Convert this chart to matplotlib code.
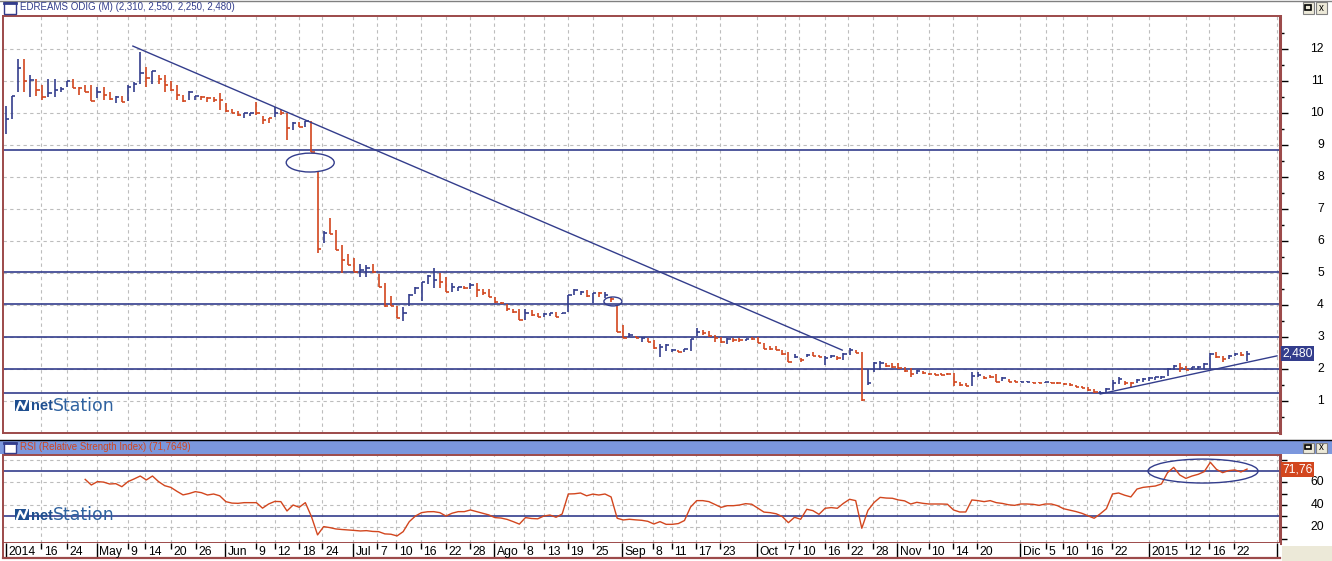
import numpy as np
import matplotlib
matplotlib.use('Agg')
import matplotlib.pyplot as plt
from matplotlib.patches import Ellipse, Rectangle
from matplotlib import transforms

plt.rcParams['font.family'] = ['Liberation Sans', 'DejaVu Sans']

# daily bars (high / low / close)
highs = [10.22, 10.53, 11.69, 11.69, 11.19, 11.06, 10.88, 11.06, 11.06, 10.82,
         11.00, 11.06, 10.82, 10.88, 10.88, 10.80, 10.80, 10.65, 10.53, 10.53,
         10.88, 10.98, 11.92, 11.43, 11.31, 11.19, 11.19, 11.00, 10.88, 10.56,
         10.69, 10.53, 10.53, 10.50, 10.50, 10.61, 10.30, 10.12, 10.07, 10.01,
         10.01, 10.35, 9.89, 9.83, 10.18, 10.09, 9.99, 9.73, 9.73, 9.76,
         9.76, 8.15, 6.31, 6.71, 6.34, 5.88, 5.58, 5.46, 5.27, 5.25,
         5.27, 4.96, 4.68, 4.28, 3.98, 3.95, 4.33, 4.57, 4.73, 4.94,
         5.15, 5.01, 4.89, 4.68, 4.57, 4.59, 4.68, 4.68, 4.49, 4.49,
         4.26, 4.10, 4.03, 3.86, 3.86, 3.86, 3.84, 3.74, 3.76, 3.76,
         3.79, 3.74, 4.31, 4.49, 4.45, 4.47, 4.36, 4.42, 4.42, 4.26,
         4.00, 3.38, 3.11, 3.03, 2.99, 2.96, 2.91, 2.77, 2.77, 2.62,
         2.60, 2.62, 2.93, 3.27, 3.22, 3.20, 3.06, 2.99, 2.96, 2.96,
         2.96, 2.93, 2.99, 2.99, 2.82, 2.72, 2.72, 2.60, 2.54, 2.47,
         2.33, 2.47, 2.54, 2.44, 2.41, 2.44, 2.41, 2.49, 2.65, 2.59,
         2.54, 2.00, 2.23, 2.26, 2.20, 2.18, 2.20, 2.07, 2.02, 1.97,
         1.94, 1.89, 1.87, 1.87, 1.87, 1.87, 1.60, 1.55, 1.92, 1.92,
         1.78, 1.81, 1.84, 1.74, 1.68, 1.65, 1.63, 1.63, 1.60, 1.60,
         1.60, 1.60, 1.60, 1.57, 1.55, 1.50, 1.47, 1.45, 1.36, 1.32,
         1.40, 1.66, 1.74, 1.63, 1.60, 1.68, 1.71, 1.74, 1.76, 1.78,
         2.02, 2.12, 2.18, 2.09, 2.07, 2.09, 2.18, 2.49, 2.54, 2.41,
         2.44, 2.49, 2.54, 2.55]
lows = [9.34, 9.80, 10.67, 10.65, 10.50, 10.54, 10.40, 10.50, 10.50, 10.65,
        10.82, 10.77, 10.56, 10.65, 10.38, 10.46, 10.40, 10.40, 10.32, 10.35,
        10.38, 10.65, 10.90, 10.80, 10.92, 10.92, 10.65, 10.69, 10.40, 10.35,
        10.40, 10.40, 10.40, 10.35, 10.35, 10.08, 10.04, 10.00, 9.91, 9.83,
        9.89, 9.94, 9.66, 9.68, 9.87, 9.94, 9.14, 9.47, 9.57, 9.57,
        8.79, 5.64, 5.95, 6.21, 5.72, 5.01, 5.24, 5.02, 4.87, 4.89,
        5.01, 4.57, 3.95, 3.97, 3.58, 3.51, 3.98, 4.33, 4.11, 4.65,
        4.52, 4.54, 4.40, 4.42, 4.45, 4.49, 4.49, 4.26, 4.31, 4.24,
        4.07, 4.03, 3.82, 3.76, 3.53, 3.53, 3.66, 3.64, 3.64, 3.66,
        3.64, 3.72, 3.79, 4.31, 4.31, 4.26, 4.05, 4.26, 4.21, 4.10,
        3.17, 2.96, 2.99, 2.96, 2.85, 2.85, 2.63, 2.39, 2.57, 2.54,
        2.52, 2.54, 2.57, 3.03, 3.06, 2.99, 2.85, 2.82, 2.78, 2.85,
        2.85, 2.89, 2.91, 2.80, 2.63, 2.60, 2.60, 2.44, 2.23, 2.33,
        2.23, 2.36, 2.41, 2.36, 2.13, 2.33, 2.28, 2.28, 2.44, 2.49,
        1.01, 1.50, 1.92, 1.97, 2.07, 2.02, 1.99, 1.92, 1.74, 1.84,
        1.84, 1.81, 1.81, 1.81, 1.81, 1.47, 1.47, 1.47, 1.47, 1.74,
        1.68, 1.71, 1.60, 1.63, 1.60, 1.60, 1.58, 1.58, 1.55, 1.55,
        1.55, 1.55, 1.53, 1.50, 1.47, 1.43, 1.40, 1.32, 1.26, 1.22,
        1.26, 1.34, 1.53, 1.50, 1.45, 1.55, 1.60, 1.63, 1.66, 1.68,
        1.78, 1.97, 1.92, 1.97, 1.97, 1.99, 1.99, 1.99, 2.33, 2.23,
        2.30, 2.41, 2.41, 2.25]
closes = [9.80, 10.53, 11.40, 11.00, 11.02, 10.72, 10.50, 10.61, 10.72, 10.74,
          11.00, 10.79, 10.77, 10.65, 10.38, 10.65, 10.56, 10.43, 10.50, 10.35,
          10.82, 10.90, 11.24, 11.10, 11.31, 11.05, 10.88, 10.72, 10.56, 10.38,
          10.67, 10.53, 10.50, 10.46, 10.40, 10.40, 10.07, 10.01, 9.94, 9.99,
          10.01, 10.01, 9.78, 9.83, 10.01, 9.99, 9.52, 9.70, 9.57, 9.76,
          8.79, 5.75, 6.26, 6.21, 5.72, 5.41, 5.24, 5.04, 5.09, 5.17,
          5.04, 4.57, 3.98, 3.97, 3.60, 3.76, 4.30, 4.54, 4.73, 4.91,
          4.78, 4.73, 4.40, 4.57, 4.55, 4.52, 4.63, 4.47, 4.36, 4.26,
          4.10, 4.05, 3.89, 3.79, 3.53, 3.74, 3.69, 3.64, 3.71, 3.74,
          3.64, 3.74, 4.31, 4.47, 4.42, 4.28, 4.36, 4.36, 4.31, 4.19,
          3.17, 2.96, 3.06, 2.96, 2.96, 2.85, 2.65, 2.70, 2.75, 2.60,
          2.52, 2.62, 2.93, 3.17, 3.11, 3.03, 2.96, 2.85, 2.93, 2.91,
          2.91, 2.93, 2.93, 2.82, 2.63, 2.62, 2.60, 2.47, 2.23, 2.39,
          2.28, 2.44, 2.41, 2.36, 2.33, 2.41, 2.33, 2.47, 2.60, 2.51,
          1.03, 1.55, 2.18, 2.20, 2.09, 2.05, 2.02, 1.95, 1.84, 1.95,
          1.87, 1.84, 1.81, 1.81, 1.83, 1.60, 1.50, 1.48, 1.78, 1.81,
          1.71, 1.74, 1.60, 1.71, 1.60, 1.60, 1.60, 1.60, 1.57, 1.57,
          1.58, 1.57, 1.55, 1.53, 1.50, 1.45, 1.42, 1.34, 1.29, 1.26,
          1.36, 1.57, 1.68, 1.55, 1.57, 1.66, 1.68, 1.71, 1.74, 1.76,
          2.00, 2.09, 2.02, 1.97, 2.05, 2.07, 2.16, 2.46, 2.37, 2.30,
          2.41, 2.47, 2.44, 2.48]
# u = blue (up) bar, d = red (down) bar
direction = ("uuudu dduuu udddd uddud uuudu ddddd uuddd ddddu udddu ddudu "
             "ddudd ddduu ddddd uuuuu udduu duddd ddddd udduu duuuu dudud "
             "ddudu dduuu duuud dddud duddd ddddu duddu uduud duuud ddddu "
             "ddddd ddduu dddud duudd udddd ddddu uuudd uuuuu uuddu uuudd uudu")
last_open = 2.31

# RSI, starts at bar 13
rsi_start = 13
rsi = [62.6, 57.6, 60.6, 60.2, 58.5, 58.8, 56.1, 60.6, 63.0, 65.6,
       62.1, 65.6, 60.6, 57.0, 55.5, 52.0, 48.8, 50.0, 51.7, 50.8,
       48.7, 49.6, 48.0, 42.8, 41.5, 41.3, 41.9, 41.9, 41.9, 37.0,
       40.7, 43.0, 42.8, 34.5, 39.8, 37.8, 41.9, 29.5, 13.2, 20.6,
       19.7, 18.5, 18.0, 17.6, 17.2, 16.7, 17.0, 16.3, 16.1, 14.1,
       13.8, 12.3, 16.1, 25.0, 30.0, 33.0, 33.8, 33.9, 33.0, 30.0,
       32.5, 33.9, 33.9, 35.4, 33.9, 32.5, 31.0, 28.6, 28.2, 27.0,
       25.0, 22.8, 28.6, 27.8, 27.5, 30.0, 30.9, 28.9, 31.8, 49.6,
       49.8, 50.5, 48.0, 49.5, 48.7, 49.6, 47.0, 28.0, 26.5, 27.1,
       26.6, 26.2, 25.3, 22.9, 25.0, 22.6, 22.6, 23.3, 26.0, 38.0,
       43.7, 43.7, 42.8, 40.2, 37.7, 39.2, 39.2, 39.8, 41.0, 40.5,
       37.0, 33.5, 33.0, 32.0, 29.5, 24.1, 28.9, 27.1, 36.0, 34.8,
       31.5, 36.9, 37.5, 36.9, 41.3, 44.9, 43.7, 19.1, 35.0, 42.0,
       46.6, 46.0, 45.8, 44.3, 43.5, 40.7, 42.2, 41.3, 40.7, 40.7,
       40.7, 40.5, 35.4, 33.6, 33.6, 44.3, 43.7, 42.8, 43.7, 41.9,
       41.2, 40.0, 39.5, 40.7, 40.7, 40.4, 39.5, 40.7, 40.7, 39.2,
       36.5, 35.2, 34.0, 32.4, 30.2, 28.0, 32.0, 36.5, 49.6, 50.5,
       48.5, 47.0, 54.0, 55.5, 56.1, 56.7, 58.5, 68.6, 73.3, 66.5,
       63.5, 65.6, 67.1, 69.5, 77.8, 71.5, 68.6, 70.4, 71.0, 69.2,
       71.7649]
rsi_levels = [70, 30]

# drawn studies
levels = [8.84, 5.03, 4.03, 3.0, 2.0, 1.25]
trend_down_x, trend_down_y = [20.8, 136.8], [12.09, 2.59]
trend_up_x, trend_up_y = [179.0, 207.9], [1.22, 2.41]
price_marks = [(49.8, 8.45, 7.85, 0.59), (99.3, 4.11, 2.94, 0.28)]
rsi_mark = (195.8, 70.0, 18.0, 21.3)

# date axis
tick_pos = [0, 5.8, 10, 14.9, 20, 22.8, 27, 31.1, 35.9, 40.9, 44, 48, 51.8,
            56.8, 60.8, 63.9, 67.9, 72, 75.9, 79.9, 84.8, 88.1, 91.9, 96,
            100.8, 105.9, 108.9, 112.9, 116.8, 122.9, 127.4, 129.8, 134, 137.8,
            141.9, 145.8, 151, 154.9, 158.9, 165.9, 170.1, 172.9, 176.9, 180.9,
            186.9, 193, 196.8, 200.9, 207.9]
tick_labels = ['2014', '16', '24', 'May', '9', '14', '20', '26', 'Jun', '9', '12',
               '18', '24', 'Jul', '7', '10', '16', '22', '28', 'Ago', '8', '13',
               '19', '25', 'Sep', '8', '11', '17', '23', 'Oct', '7', '10', '16',
               '22', '28', 'Nov', '10', '14', '20', 'Dic', '5', '10', '16', '22',
               '2015', '12', '16', '22', '']

W, H = 1332, 561
BLUE = '#333d8c'
RED = '#d2461e'
FRAME = '#9c4a4a'
GRID = '#bdbdbd'
XLIM = (-0.44, 208.39)


def box(x0, y0, x1, y1):
    # pixel box measured from the top-left -> figure fraction rect
    return [x0 / W, 1 - y1 / H, (x1 - x0) / W, (y1 - y0) / H]


def fig_rect(x0, y0, x1, y1, **kw):
    fig.add_artist(Rectangle((x0 / W, 1 - y1 / H), (x1 - x0) / W, (y1 - y0) / H,
                             transform=fig.transFigure, **kw))


def fig_line(x0, y0, x1, y1, **kw):
    fig.add_artist(plt.Line2D([x0 / W, x1 / W], [1 - y0 / H, 1 - y1 / H],
                              transform=fig.transFigure, **kw))


def window_bar(y0, y1, bg, title, title_color):
    fig_rect(0, y0, W, y1, facecolor=bg, edgecolor='none')
    fig_rect(3.5, y0 + 2.5, 15.5, y1 - 1.5, facecolor='white', edgecolor=BLUE, lw=1.0)
    fig_line(3.5, y0 + 3, 15.5, y0 + 3, color=BLUE, lw=2)
    fig.text(20 / W, 1 - (y0 + y1) / 2 / H, title, color=title_color,
             fontsize=7.0, va='center', ha='left')
    # min / close buttons
    fig_rect(1302.5, y0 + 2.5, 1313.5, y1 - 1.5, facecolor='#ece9d8', edgecolor='#808080', lw=0.8)
    fig_rect(1305, y0 + 5, 1311, y1 - 5, facecolor='none', edgecolor='black', lw=1.2)
    fig_rect(1315.5, y0 + 2.5, 1326.5, y1 - 1.5, facecolor='#ece9d8', edgecolor='#808080', lw=0.8)
    fig.text(1321 / W, 1 - ((y0 + y1) / 2 + 0.5) / H, 'x', fontsize=7, ha='center',
             va='center', color='black')


def logo(y):
    fig_rect(15, y, 29, y + 11, facecolor='#1f4f8f', edgecolor='none')
    fig.add_artist(plt.Line2D([17 / W, 20 / W, 24 / W, 27 / W],
                              [1 - (y + 10) / H, 1 - (y + 2) / H, 1 - (y + 9) / H, 1 - (y + 1) / H],
                              transform=fig.transFigure, color='white', lw=1.6))
    fig.text(31 / W, 1 - (y + 6.5) / H, 'net', color='#1f4f8f', fontsize=10.5,
             fontweight='bold', va='center', ha='left')
    fig.text(53 / W, 1 - (y + 6) / H, 'Station', color='#2f62a0', fontsize=12.5,
             family='DejaVu Sans', va='center', ha='left')


def style_frame(a):
    for s in a.spines.values():
        s.set_color(FRAME)
        s.set_linewidth(1.4)
    a.spines['right'].set_linewidth(2.2)
    a.set_xlim(*XLIM)
    a.set_xticks(tick_pos[1:])
    a.tick_params(axis='x', length=0, labelbottom=False)
    a.grid(True, which='major', color=GRID, linestyle=(0, (3, 3)), lw=0.8)
    a.yaxis.tick_right()
    a.tick_params(axis='y', which='both', direction='out', width=1, colors='black',
                  labelright=False, labelleft=False)


fig = plt.figure(figsize=(W / 100, H / 100), dpi=100)
fig.patch.set_facecolor('white')

x = np.arange(len(closes))
up = np.array([c == 'u' for c in direction.replace(' ', '')])
bar_colors = np.where(up, BLUE, RED)

# ---- price panel
ax = fig.add_axes(box(3, 16, 1280, 433))
ax.set_ylim(0.0, 13.03)
ax.set_yticks(range(1, 13))
ax.set_yticks(np.arange(0.5, 13, 1), minor=True)
style_frame(ax)
ax.tick_params(axis='y', which='major', length=6)
ax.tick_params(axis='y', which='minor', length=3)

for lv in levels:
    ax.axhline(lv, color=BLUE, lw=1.2, zorder=2)
ax.vlines(x, lows, highs, colors=bar_colors, lw=1.2, zorder=3)
ax.hlines(closes, x, x + 0.55, colors=bar_colors, lw=1.2, zorder=3)
ax.plot(trend_down_x, trend_down_y, color=BLUE, lw=1.0, zorder=4)
ax.plot(trend_up_x, trend_up_y, color=BLUE, lw=1.0, zorder=4)
for cx, cy, w, h in price_marks:
    ax.add_patch(Ellipse((cx, cy), w, h, fill=False, ec=BLUE, lw=1.0, zorder=4))

ylab = transforms.blended_transform_factory(ax.transAxes, ax.transData)
for v in range(1, 13):
    ax.text(1.0344, v, str(v), transform=ylab, ha='right', va='center',
            fontsize=8.7, clip_on=False)
ax.text(1.0017, closes[-1], f'{closes[-1]:.3f}'.replace('.', ','), transform=ylab,
        ha='left', va='center', color='white', fontsize=8.7, clip_on=False,
        bbox=dict(boxstyle='square,pad=0.12', fc=BLUE, ec='none'))

# ---- RSI panel
ax2 = fig.add_axes(box(3, 455, 1280, 543))
ax2.set_ylim(6.0, 84.3)
ax2.set_yticks([20, 40, 60, 80])
ax2.set_yticks([10, 30, 50, 70], minor=True)
style_frame(ax2)
ax2.tick_params(axis='y', which='both', length=5)
for lv in rsi_levels:
    ax2.axhline(lv, color=BLUE, lw=1.2, zorder=2)
ax2.plot(np.arange(rsi_start, rsi_start + len(rsi)), rsi, color=RED, lw=1.0, zorder=3)
ax2.add_patch(Ellipse(rsi_mark[:2], rsi_mark[2], rsi_mark[3], fill=False, ec=BLUE,
                      lw=1.0, zorder=4))
ylab2 = transforms.blended_transform_factory(ax2.transAxes, ax2.transData)
for v in [20, 40, 60]:
    ax2.text(1.0344, v, str(v), transform=ylab2, ha='right', va='center',
             fontsize=8.7, clip_on=False)
ax2.text(1.0017, rsi[-1], f'{rsi[-1]:.2f}'.replace('.', ','), transform=ylab2,
         ha='left', va='center', color='white', fontsize=8.7, clip_on=False,
         bbox=dict(boxstyle='square,pad=0.12', fc=RED, ec='none'))

# ---- date axis
ax3 = fig.add_axes(box(3, 543, 1280, 558))
ax3.set_xlim(*XLIM)
ax3.set_ylim(0, 1)
ax3.set_xticks([])
ax3.set_yticks([])
ax3.spines['top'].set_visible(False)
ax3.spines['right'].set_visible(False)
ax3.spines['bottom'].set_color(FRAME)
ax3.spines['bottom'].set_linewidth(1.6)
ax3.spines['left'].set_color(FRAME)
ax3.spines['left'].set_linewidth(1.4)
shift = transforms.offset_copy(ax3.transData, fig=fig, x=2.5, y=0, units='dots')
for p, lbl in zip(tick_pos, tick_labels):
    long_tick = (not lbl.isdigit()) or len(lbl) == 4
    ax3.vlines(p, 0 if long_tick else 0.62, 1, color='black', lw=1.0)
    ax3.text(p, 0.42, lbl, transform=shift, ha='left', va='center', fontsize=8.7)

# ---- window chrome
fig_line(0, 0.5, W, 0.5, color='#808080', lw=1)
window_bar(0, 15, 'white',
           f'EDREAMS ODIG (M) ({last_open:.3f}, {highs[-1]:.3f}, {lows[-1]:.3f}, {closes[-1]:.3f})'
           .replace('.', ','), BLUE)
fig_line(0, 439.5, W, 439.5, color='black', lw=1)
window_bar(440, 454, '#7b97dd', f'RSI (Relative Strength Index) ({rsi[-1]:.4f})'.replace('.', ','), RED)
fig_rect(1282, 546, W, H, facecolor='#ece9d8', edgecolor='none')
logo(400)
logo(509)

fig.savefig('out.png', dpi=100)
